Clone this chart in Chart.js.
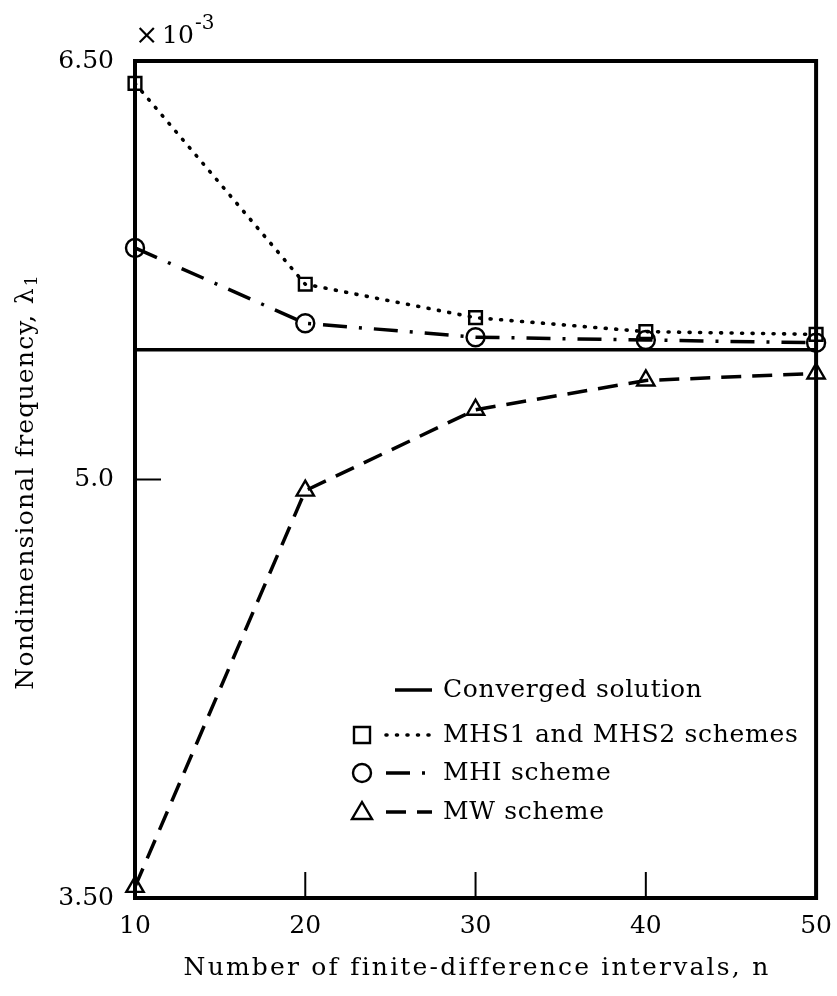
<!DOCTYPE html>
<html>
<head>
<meta charset="utf-8">
<script src="https://cdn.jsdelivr.net/npm/chart.js@4"></script>
<style>
  html, body { margin: 0; padding: 0; background: #fff; }
</style>
</head>
<body>
<canvas id="myChart" width="837" height="996"></canvas>
<script>
// Datos (frecuencia x 10^-3)
const nValues = [10, 20, 30, 40, 50];
const convergedN = [10, 50];
const convergedValues = [5.465, 5.465];
const mhsValues = [6.42, 5.70, 5.58, 5.53, 5.52];
const mhiValues = [5.83, 5.56, 5.51, 5.50, 5.49];
const mwValues = [3.54, 4.96, 5.25, 5.355, 5.38];

const xTickValues = [10, 20, 30, 40, 50];
const yTickValues = [3.5, 5.0, 6.5];
const yTickLabels = ["3.50", "5.0", "6.50"];

const legendLabels = ["Converged solution", "MHS1 and MHS2 schemes", "MHI scheme", "MW scheme"];

const FONT = "'DejaVu Serif', serif";

function toXY(xs, ys) {
    return xs.map((x, i) => ({ x: x, y: ys[i] }));
}

// estilos de linea
const dashSolid = [];
const dashDotted = [1, 9.5];
const dashDashDot = [24, 12, 3, 12];
const dashDashed = [20, 11];

function drawMarker(ctx, style, x, y) {
    ctx.save();
    ctx.setLineDash([]);
    ctx.lineWidth = 2.4;
    ctx.strokeStyle = "#000";
    ctx.beginPath();
    if (style === "rect") {
        ctx.rect(x - 8, y - 8, 16, 16);
    } else if (style === "circle") {
        ctx.arc(x, y, 9, 0, Math.PI * 2);
    } else if (style === "triangle") {
        ctx.moveTo(x, y - 10);
        ctx.lineTo(x + 10, y + 7);
        ctx.lineTo(x - 10, y + 7);
        ctx.closePath();
    }
    ctx.stroke();
    ctx.restore();
}

const extras = {
    id: "extras",
    beforeDraw(chart) {
        chart.ctx.letterSpacing = "0px";
    },
    afterDraw(chart) {
        const ctx = chart.ctx;
        const a = chart.chartArea;
        const xs = chart.scales.x;
        const ys = chart.scales.y;
        ctx.save();
        ctx.strokeStyle = "#000";
        ctx.fillStyle = "#000";
        ctx.setLineDash([]);

        // marco
        ctx.lineWidth = 4;
        ctx.strokeRect(a.left, a.top, a.right - a.left, a.bottom - a.top);

        // marcas interiores
        ctx.lineWidth = 2;
        [20, 30, 40].forEach(v => {
            const px = xs.getPixelForValue(v);
            ctx.beginPath();
            ctx.moveTo(px, a.bottom);
            ctx.lineTo(px, a.bottom - 26);
            ctx.stroke();
        });
        const py5 = ys.getPixelForValue(5.0);
        ctx.beginPath();
        ctx.moveTo(a.left, py5);
        ctx.lineTo(a.left + 26, py5);
        ctx.stroke();

        // multiplicador
        ctx.textBaseline = "alphabetic";
        ctx.textAlign = "left";
        ctx.font = "28px " + FONT;
        ctx.fillText("\u00d7", a.left, 44);
        ctx.font = "25px " + FONT;
        ctx.fillText("10", a.left + 27, 43);
        ctx.font = "20px " + FONT;
        ctx.fillText("-3", a.left + 60, 29);

        // titulos de ejes
        ctx.font = "25px " + FONT;
        ctx.textAlign = "center";
        ctx.textBaseline = "middle";
        ctx.letterSpacing = "2.2px";
        ctx.fillText("Number of finite-difference intervals, n", 477, 968);
        ctx.save();
        ctx.translate(26, (a.top + a.bottom) / 2);
        ctx.rotate(-Math.PI / 2);
        ctx.letterSpacing = "1.2px";
        ctx.fillText("Nondimensional frequency, \u03bb", -9, 0);
        const w = ctx.measureText("Nondimensional frequency, \u03bb").width;
        ctx.letterSpacing = "0px";
        ctx.font = "17px " + FONT;
        ctx.textAlign = "left";
        ctx.fillText("1", -9 + w / 2 + 1, 7);
        ctx.restore();

        // leyenda
        const lx0 = 386, lx1 = 432, mx = 362, tx = 443;
        const rows = [690, 735, 773, 812];
        chart.data.datasets.forEach((ds, i) => {
            const y = rows[i];
            ctx.save();
            ctx.lineWidth = ds.borderWidth;
            ctx.lineCap = ds.borderCapStyle;
            ctx.setLineDash(ds.borderDash);
            ctx.beginPath();
            ctx.moveTo(i === 0 ? 395 : lx0, y);
            ctx.lineTo(lx1, y);
            ctx.stroke();
            ctx.restore();
            if (ds.pointRadius > 0) drawMarker(ctx, ds.pointStyle, mx, y);
            ctx.font = "25px " + FONT;
            ctx.letterSpacing = "0.7px";
            ctx.textAlign = "left";
            ctx.textBaseline = "middle";
            ctx.fillText(legendLabels[i], tx, y);
        });
        ctx.letterSpacing = "0px";
        ctx.restore();
        ctx.letterSpacing = "0px";
    }
};

const ctxChart = document.getElementById("myChart").getContext("2d");
const myChart = new Chart(ctxChart, {
    type: "line",
    data: {
        datasets: [
            {
                label: legendLabels[0],
                data: toXY(convergedN, convergedValues),
                borderColor: "#000",
                borderWidth: 3.5,
                borderDash: dashSolid,
                borderCapStyle: "butt",
                pointRadius: 0,
                clip: false,
            },
            {
                label: legendLabels[1],
                data: toXY(nValues, mhsValues),
                borderColor: "#000",
                borderWidth: 3.6,
                borderDash: dashDotted,
                borderCapStyle: "round",
                pointStyle: "rect",
                pointRadius: 9,
                pointBorderWidth: 2.4,
                pointBorderColor: "#000",
                pointBackgroundColor: "rgba(0,0,0,0)",
                clip: false,
            },
            {
                label: legendLabels[2],
                data: toXY(nValues, mhiValues),
                borderColor: "#000",
                borderWidth: 3.5,
                borderDash: dashDashDot,
                borderCapStyle: "butt",
                pointStyle: "circle",
                pointRadius: 9,
                pointBorderWidth: 2.4,
                pointBorderColor: "#000",
                pointBackgroundColor: "rgba(0,0,0,0)",
                clip: false,
            },
            {
                label: legendLabels[3],
                data: toXY(nValues, mwValues),
                borderColor: "#000",
                borderWidth: 3.5,
                borderDash: dashDashed,
                borderCapStyle: "butt",
                pointStyle: "triangle",
                pointRadius: 10,
                pointBorderWidth: 2.4,
                pointBorderColor: "#000",
                pointBackgroundColor: "rgba(0,0,0,0)",
                clip: false,
            },
        ],
    },
    options: {
        responsive: false,
        animation: false,
        tension: 0,
        layout: { padding: { top: 61, right: 15, left: 0, bottom: 0 } },
        plugins: { legend: { display: false }, tooltip: { enabled: false } },
        scales: {
            x: {
                type: "linear",
                min: 10,
                max: 50,
                grid: { display: false },
                border: { display: false },
                afterBuildTicks: (scale) => { scale.ticks = xTickValues.map(v => ({ value: v })); },
                afterFit: (scale) => { scale.height = 98; },
                ticks: {
                    color: "#000",
                    font: { family: FONT, size: 25 },
                    padding: 5,
                    maxRotation: 0,
                    autoSkip: false,
                },
            },
            y: {
                type: "linear",
                min: 3.5,
                max: 6.5,
                grid: { display: false },
                border: { display: false },
                afterBuildTicks: (scale) => { scale.ticks = yTickValues.map(v => ({ value: v })); },
                afterFit: (scale) => { scale.width = 135; },
                ticks: {
                    color: "#000",
                    font: { family: FONT, size: 25 },
                    padding: 13,
                    autoSkip: false,
                    callback: (v) => {
                        const i = yTickValues.indexOf(v);
                        return i >= 0 ? yTickLabels[i] : "";
                    },
                },
            },
        },
    },
    plugins: [extras],
});
</script>
</body>
</html>
